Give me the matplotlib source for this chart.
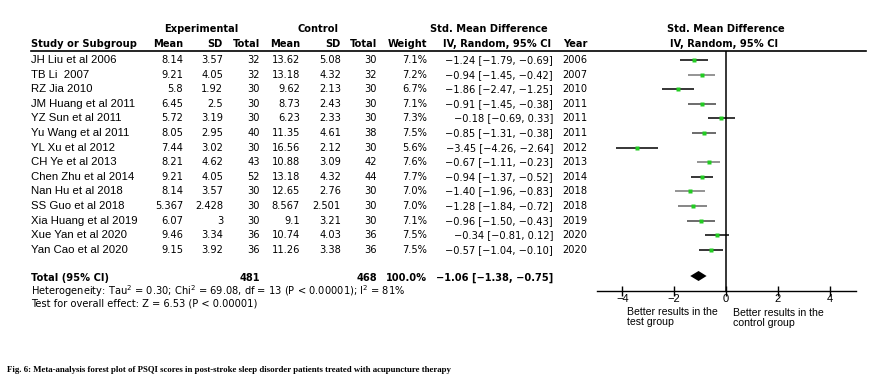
import matplotlib
matplotlib.use('Agg')
import matplotlib.pyplot as plt

studies = ['JH Liu et al 2006', 'TB Li  2007', 'RZ Jia 2010', 'JM Huang et al 2011',
           'YZ Sun et al 2011', 'Yu Wang et al 2011', 'YL Xu et al 2012', 'CH Ye et al 2013',
           'Chen Zhu et al 2014', 'Nan Hu et al 2018', 'SS Guo et al 2018',
           'Xia Huang et al 2019', 'Xue Yan et al 2020', 'Yan Cao et al 2020']
exp_mean = ['8.14', '9.21', '5.8', '6.45', '5.72', '8.05', '7.44', '8.21', '9.21', '8.14',
            '5.367', '6.07', '9.46', '9.15']
exp_sd = ['3.57', '4.05', '1.92', '2.5', '3.19', '2.95', '3.02', '4.62', '4.05', '3.57',
          '2.428', '3', '3.34', '3.92']
exp_n = [32, 32, 30, 30, 30, 40, 30, 43, 52, 30, 30, 30, 36, 36]
ctl_mean = ['13.62', '13.18', '9.62', '8.73', '6.23', '11.35', '16.56', '10.88', '13.18',
            '12.65', '8.567', '9.1', '10.74', '11.26']
ctl_sd = ['5.08', '4.32', '2.13', '2.43', '2.33', '4.61', '2.12', '3.09', '4.32', '2.76',
          '2.501', '3.21', '4.03', '3.38']
ctl_n = [30, 32, 30, 30, 30, 38, 30, 42, 44, 30, 30, 30, 36, 36]
weight = [7.1, 7.2, 6.7, 7.1, 7.3, 7.5, 5.6, 7.6, 7.7, 7.0, 7.0, 7.1, 7.5, 7.5]
smd = [-1.24, -0.94, -1.86, -0.91, -0.18, -0.85, -3.45, -0.67, -0.94, -1.40, -1.28, -0.96, -0.34, -0.57]
lo = [-1.79, -1.45, -2.47, -1.45, -0.69, -1.31, -4.26, -1.11, -1.37, -1.96, -1.84, -1.50, -0.81, -1.04]
hi = [-0.69, -0.42, -1.25, -0.38, 0.33, -0.38, -2.64, -0.23, -0.52, -0.83, -0.72, -0.43, 0.12, -0.10]
years = [2006, 2007, 2010, 2011, 2011, 2011, 2012, 2013, 2014, 2018, 2018, 2019, 2020, 2020]
tot_exp, tot_ctl = 481, 468
tot_smd, tot_lo, tot_hi = -1.06, -1.38, -0.75
het_text = 'Heterogeneity: Tau$^2$ = 0.30; Chi$^2$ = 69.08, df = 13 (P < 0.00001); I$^2$ = 81%'
eff_text = 'Test for overall effect: Z = 6.53 (P < 0.00001)'
caption = ('Fig. 6: Meta-analysis forest plot of PSQI scores in post-stroke sleep disorder '
           'patients treated with acupuncture therapy')

line_cols = ['black', '#777777', 'black', '#444444', 'black', '#444444', 'black', '#777777',
             'black', '#777777', '#666666', '#444444', 'black', 'black']

W, H = 874, 381
fig = plt.figure(figsize=(W / 100, H / 100), dpi=100)
bg = fig.add_axes([0, 0, 1, 1])
bg.set_xlim(0, W)
bg.set_ylim(H, 0)
bg.axis('off')

tfont = 'DejaVu Sans'
nfont = 'Liberation Sans'
fs = 7.1

def row_y(i):
    return 60 + 14.6 * i

total_y = 278

# headers
hb = dict(fontsize=fs, family=tfont, fontweight='bold', va='center')
bg.text(201, 29, 'Experimental', ha='center', **hb)
bg.text(318, 29, 'Control', ha='center', **hb)
bg.text(489, 29, 'Std. Mean Difference', ha='center', **hb)
bg.text(726, 29, 'Std. Mean Difference', ha='center', **hb)
bg.text(31, 44, 'Study or Subgroup', ha='left', **hb)
for x, s in [(183, 'Mean'), (223, 'SD'), (260, 'Total'), (300, 'Mean'), (341, 'SD'),
             (377, 'Total'), (427, 'Weight'), (551, 'IV, Random, 95% CI')]:
    bg.text(x, 44, s, ha='right', **hb)
bg.text(563, 44, 'Year', ha='left', **hb)
bg.text(724, 44, 'IV, Random, 95% CI', ha='center', **hb)
bg.plot([31, 866], [50.5, 50.5], color='black', lw=1.2)

fmt = lambda v: f'{v:.2f}'.replace('-', '\u2212')
tn = dict(fontsize=fs, family=tfont, va='center')
for i, name in enumerate(studies):
    y = row_y(i)
    bg.text(31, y, name, ha='left', va='center', fontsize=8.2, family=nfont)
    bg.text(183, y, exp_mean[i], ha='right', **tn)
    bg.text(223, y, exp_sd[i], ha='right', **tn)
    bg.text(260, y, str(exp_n[i]), ha='right', **tn)
    bg.text(300, y, ctl_mean[i], ha='right', **tn)
    bg.text(341, y, ctl_sd[i], ha='right', **tn)
    bg.text(377, y, str(ctl_n[i]), ha='right', **tn)
    bg.text(427, y, f'{weight[i]:.1f}%', ha='right', **tn)
    bg.text(553, y, f'{fmt(smd[i])} [{fmt(lo[i])}, {fmt(hi[i])}]', ha='right', **tn)
    bg.text(562, y, str(years[i]), ha='left', **tn)

bg.text(31, total_y, 'Total (95% CI)', ha='left', **hb)
bg.text(260, total_y, str(tot_exp), ha='right', **hb)
bg.text(377, total_y, str(tot_ctl), ha='right', **hb)
bg.text(427, total_y, '100.0%', ha='right', **hb)
bg.text(553, total_y, f'{fmt(tot_smd)} [{fmt(tot_lo)}, {fmt(tot_hi)}]', ha='right', **hb)
bg.text(31, 291, het_text, ha='left', **tn)
bg.text(31, 303, eff_text, ha='left', **tn)

bg.text(627, 307, 'Better results in the\ntest group', ha='left', va='top',
        fontsize=7.6, family=nfont, linespacing=1.05)
bg.text(733, 308, 'Better results in the\ncontrol group', ha='left', va='top',
        fontsize=7.6, family=nfont, linespacing=1.05)

bg.text(7, 370, caption, ha='left', va='center', fontsize=6.3, family='Liberation Serif',
        fontweight='bold')

# forest panel
x0, x1, ytop, ybot = 596.5, 855.5, 50.5, 291
ax = fig.add_axes([x0 / W, 1 - ybot / H, (x1 - x0) / W, (ybot - ytop) / H])
ax.set_xlim(-5, 5)
ax.set_ylim(ybot, ytop)
ax.patch.set_alpha(0)
for sp in ['top', 'left', 'right']:
    ax.spines[sp].set_visible(False)
ax.spines['bottom'].set_linewidth(1.0)
ax.set_yticks([])
ax.set_xticks([-4, -2, 0, 2, 4])
ax.tick_params(axis='x', direction='inout', length=7, width=1, pad=-1,
               labelsize=8, labelfontfamily=nfont)
ax.axvline(0, color='black', lw=1.1)
for i in range(len(studies)):
    y = row_y(i)
    ax.plot([lo[i], hi[i]], [y, y], color=line_cols[i], lw=1.1, solid_capstyle='butt')
    ax.plot(smd[i], y, marker='s', ms=3, color='#22cc22', mec='none')
ax.fill([tot_lo, tot_smd, tot_hi, tot_smd], [total_y - 2, total_y - 7, total_y - 2, total_y + 3],
        color='black', lw=0)

fig.savefig('out.png', dpi=100)
